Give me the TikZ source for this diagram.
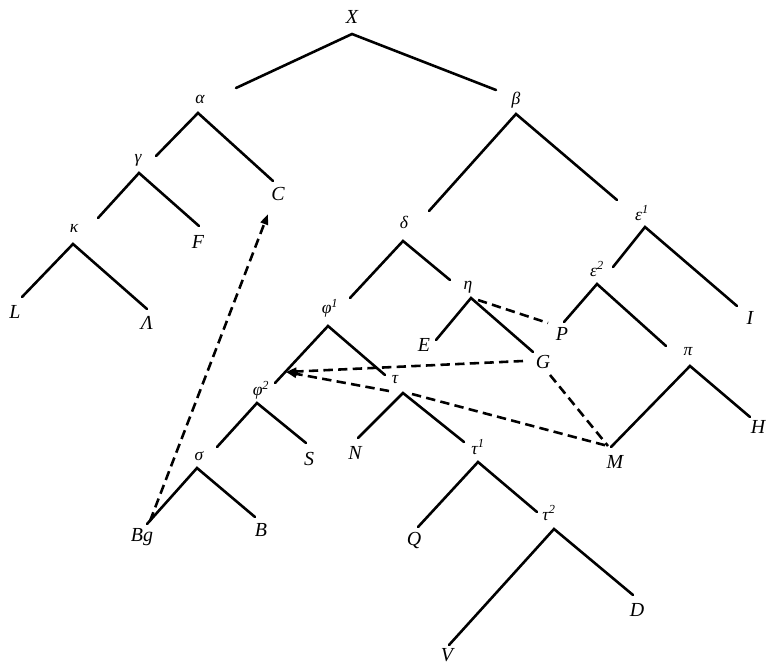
\documentclass[tikz,border=0pt]{standalone}
\usepackage{fontspec}
\setmainfont{Liberation Serif}
\usetikzlibrary{arrows.meta}
\begin{document}
\begin{tikzpicture}[x=0.03cm,y=-0.03cm,
  br/.style={line width=2.2pt,line cap=round},
  dsh/.style={line width=2.2pt,dash pattern=on 8pt off 4.5pt},
  lat/.style={inner sep=0pt,font=\fontsize{17}{17}\selectfont\itshape},
  grk/.style={inner sep=0pt,font=\fontsize{15}{15}\selectfont\itshape},
  tip/.style={-{Triangle[length=9pt,width=6.5pt]}}]
\useasboundingbox (0,0) rectangle (767,666);
% labels
\node[lat] (X) at (352,17) {X};
\node[grk] (alpha) at (200,99) {α};
\node[grk] (beta) at (516,100) {β};
\node[grk] (gamma) at (138,160) {γ};
\node[lat] (C) at (278,194) {C};
\node[grk] (kappa) at (74,228) {κ};
\node[lat] (F) at (198,242) {F};
\node[lat] (L) at (15,312) {L};
\node[lat] (Lam) at (147,323) {Λ};
\node[grk] (delta) at (404,222) {δ};
\node[grk] (eps1) at (642,213) {ε\textsuperscript{1}};
\node[grk] (eta) at (468,287) {η};
\node[lat] (E) at (424,345) {E};
\node[lat] (G) at (543,362) {G};
\node[grk] (eps2) at (597,269) {ε\textsuperscript{2}};
\node[lat] (P) at (562,334) {P};
\node[lat] (I) at (750,318) {I};
\node[grk] (pi) at (688,352) {π};
\node[lat] (H) at (758,427) {H};
\node[lat] (M) at (615,462) {M};
\node[grk] (phi1) at (330,308) {φ\textsuperscript{1}};
\node[grk] (phi2) at (261,390) {φ\textsuperscript{2}};
\node[lat] (S) at (309,459) {S};
\node[grk] (sigma) at (199,456) {σ};
\node[lat] (Bg) at (142,537) {Bg};
\node[lat] (B) at (261,530) {B};
\node[grk] (tau) at (395,380) {τ};
\node[lat] (N) at (355,453) {N};
\node[grk] (tau1) at (478,447) {τ\textsuperscript{1}};
\node[lat] (Q) at (414,541) {Q};
\node[grk] (tau2) at (549,513) {τ\textsuperscript{2}};
\node[lat] (V) at (447,655) {V};
\node[lat] (D) at (637,610) {D};
% apexes and branch ends
\coordinate (Xa) at (352,34);
\coordinate (Xl) at (236,88);
\coordinate (Xr) at (496,90);
\coordinate (alphaa) at (198,113);
\coordinate (alphal) at (156,156);
\coordinate (alphar) at (273,181);
\coordinate (gammaa) at (139,173);
\coordinate (gammal) at (98,218);
\coordinate (gammar) at (199,226);
\coordinate (kappaa) at (73,244);
\coordinate (kappal) at (22,297);
\coordinate (kappar) at (147,309);
\coordinate (betaa) at (516,114);
\coordinate (betal) at (429,211);
\coordinate (betar) at (617,200);
\coordinate (deltaa) at (403,241);
\coordinate (deltal) at (350,298);
\coordinate (deltar) at (450,280);
\coordinate (etaa) at (471,298);
\coordinate (etal) at (436,340);
\coordinate (etar) at (533,352);
\coordinate (eps1a) at (645,227);
\coordinate (eps1l) at (613,267);
\coordinate (eps1r) at (737,306);
\coordinate (eps2a) at (597,284);
\coordinate (eps2l) at (564,322);
\coordinate (eps2r) at (666,346);
\coordinate (pia) at (690,366);
\coordinate (pil) at (611,447);
\coordinate (pir) at (750,417);
\coordinate (phi1a) at (328,326);
\coordinate (phi1l) at (275,383);
\coordinate (phi1r) at (385,375);
\coordinate (phi2a) at (257,403);
\coordinate (phi2l) at (217,447);
\coordinate (phi2r) at (306,443);
\coordinate (sigmaa) at (197,468);
\coordinate (sigmal) at (147,524);
\coordinate (sigmar) at (255,517);
\coordinate (taua) at (403,393);
\coordinate (taul) at (358,438);
\coordinate (taur) at (464,442);
\coordinate (tau1a) at (478,462);
\coordinate (tau1l) at (418,527);
\coordinate (tau1r) at (537,512);
\coordinate (tau2a) at (554,529);
\coordinate (tau2l) at (449,645);
\coordinate (tau2r) at (633,595);
% tree branches
\draw[br] (Xl) -- (Xa) -- (Xr);
\draw[br] (alphal) -- (alphaa) -- (alphar);
\draw[br] (gammal) -- (gammaa) -- (gammar);
\draw[br] (kappal) -- (kappaa) -- (kappar);
\draw[br] (betal) -- (betaa) -- (betar);
\draw[br] (deltal) -- (deltaa) -- (deltar);
\draw[br] (etal) -- (etaa) -- (etar);
\draw[br] (eps1l) -- (eps1a) -- (eps1r);
\draw[br] (eps2l) -- (eps2a) -- (eps2r);
\draw[br] (pil) -- (pia) -- (pir);
\draw[br] (phi1l) -- (phi1a) -- (phi1r);
\draw[br] (phi2l) -- (phi2a) -- (phi2r);
\draw[br] (sigmal) -- (sigmaa) -- (sigmar);
\draw[br] (taul) -- (taua) -- (taur);
\draw[br] (tau1l) -- (tau1a) -- (tau1r);
\draw[br] (tau2l) -- (tau2a) -- (tau2r);
% dashed movement lines
\coordinate (Bgs) at (150,521);
\coordinate (Ctip) at (268,214);
\coordinate (phitip) at (286,372);
\coordinate (Gs) at (523,361);
\coordinate (taus) at (389,391);
\coordinate (tauM) at (412,394);
\coordinate (Gd) at (550,375);
\coordinate (Mt) at (608,446);
\coordinate (etas) at (478,300);
\coordinate (Pe) at (548,323);
\draw[dsh,tip] (Bgs) -- (Ctip);
\draw[dsh,tip] (Gs) -- (phitip);
\draw[dsh,tip] (taus) -- (phitip);
\draw[dsh] (tauM) -- (Mt);
\draw[dsh] (Gd) -- (Mt);
\draw[dsh] (etas) -- (Pe);
\end{tikzpicture}
\end{document}
